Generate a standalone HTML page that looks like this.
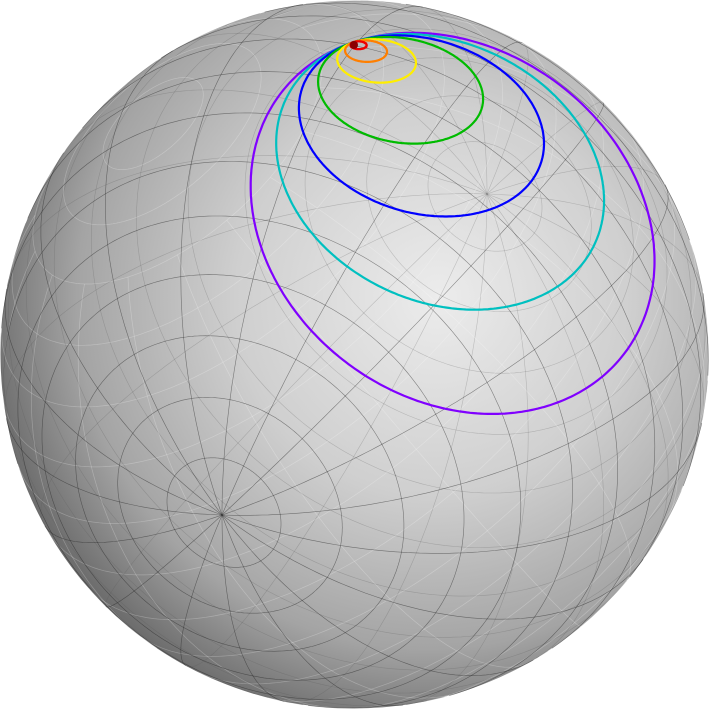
<!DOCTYPE html>
<html><head><meta charset="utf-8"><style>
html,body{margin:0;padding:0;background:#fff;width:709px;height:709px;overflow:hidden}
svg{display:block}
</style></head><body>
<svg id="chart" width="709" height="709" viewBox="0 0 709 709" xmlns="http://www.w3.org/2000/svg">
<defs>
<radialGradient id="shade" cx="0.6" cy="0.42" r="0.62" fx="0.62" fy="0.42">
<stop offset="0" stop-color="#ececec"/>
<stop offset="0.45" stop-color="#cfcfcf"/>
<stop offset="0.8" stop-color="#a4a4a4"/>
<stop offset="1" stop-color="#6e6e6e"/>
</radialGradient>
</defs>
<circle cx="354.5" cy="354.5" r="354" fill="url(#shade)"/>
<g id="grid-back"></g>
<g id="grid-light"></g>
<g id="grid-dark"></g>
<g id="circles"></g>
<circle cx="354" cy="45" r="4" fill="#8b0000"/>
</svg>
<script>
// data
const circleNames = ['red','orange','yellow','green','blue','cyan','purple'];
const circleColors = ['#ee0000','#ff7f00','#ffee00','#00bb00','#0000ff','#00c0c0','#8000ff'];
const angularRadii = [1.3, 3.4, 6.4, 13.6, 20.7, 28.8, 37.5];
const touchPoint = [354, 42];
const farPoint = [552, 410];
const darkPole = [222, 515];
const lightPole = [150, 120];
const meridianStep = [20];
const parallelStep = [10];

const CX=354.5, CY=354.5, R=354;
const NS='http://www.w3.org/2000/svg';
function toSphere(p){const x=(p[0]-CX)/R, y=(CY-p[1])/R;return [x,y,Math.sqrt(Math.max(0,1-x*x-y*y))];}
function sx(v){return CX+R*v[0];} function sy(v){return CY-R*v[1];}
function cross(a,b){return [a[1]*b[2]-a[2]*b[1],a[2]*b[0]-a[0]*b[2],a[0]*b[1]-a[1]*b[0]];}
function norm(a){const l=Math.hypot(a[0],a[1],a[2]);return a.map(v=>v/l);}
function add(a,b,s){return [a[0]+b[0]*s,a[1]+b[1]*s,a[2]+b[2]*s];}
function basis(c){let t=Math.abs(c[0])<0.9?[1,0,0]:[0,1,0];const u=norm(cross(c,t));const v=cross(c,u);return [u,v];}
function pathFrom(pts,back){let d='',pen=false;for(const p of pts){const vis=back?p[2]<0:p[2]>=0;if(!vis){pen=false;continue;}d+=(pen?'L':'M')+sx(p).toFixed(1)+' '+sy(p).toFixed(1);pen=true;}return d;}
function smallCircle(c,rDeg){const r=rDeg*Math.PI/180;const [u,v]=basis(c);const pts=[];for(let i=0;i<=360;i++){const t=i*Math.PI/180;let p=c.map(x=>x*Math.cos(r));p=add(p,u,Math.cos(t)*Math.sin(r));p=add(p,v,Math.sin(t)*Math.sin(r));pts.push(p);}return pts;}
function mkPath(g,d,stroke,w,op,name){if(!d)return;const e=document.createElementNS(NS,'path');e.setAttribute('d',d);e.setAttribute('fill','none');e.setAttribute('stroke',stroke);e.setAttribute('stroke-width',w);e.setAttribute('stroke-opacity',op);


g.appendChild(e);}
function graticule(gid,P,stroke,w,op,back,minC){const g=document.getElementById(gid);const [u,v]=basis(P);
for(let c=parallelStep[0];c<180;c+=parallelStep[0]){mkPath(g,pathFrom(smallCircle(P,c),back),stroke,w,op,'parallel-line');}
for(let lon=0;lon<360;lon+=meridianStep[0]){const L=lon*Math.PI/180;const dir=add(u.map(x=>x*Math.cos(L)),v,Math.sin(L));const pts=[];for(let c=minC;c<=180;c+=1){const a=c*Math.PI/180;pts.push(add(P.map(x=>x*Math.cos(a)),dir,Math.sin(a)));}mkPath(g,pathFrom(pts,back),stroke,w,op,'meridian-line');}}
const PD=toSphere(darkPole);
graticule('grid-back',PD,'#555',0.6,0.28,true,0);
const LP=toSphere(lightPole); LP[2]=-LP[2];
graticule('grid-light',LP,'#ffffff',0.7,0.25,true,30);
graticule('grid-dark',PD,'#222',0.6,0.5,false,0);
const T=toSphere(touchPoint),F=toSphere(farPoint);const n=norm(cross(T,F));const toward=cross(n,T);
const cg=document.getElementById('circles');
for(let i=angularRadii.length-1;i>=0;i--){const r=angularRadii[i]*Math.PI/180;const C=norm(add(T.map(x=>x*Math.cos(r)),toward,Math.sin(r)));
mkPath(cg,pathFrom(smallCircle(C,angularRadii[i]),false),circleColors[i],2.2,1,'circle-'+circleNames[i]);}
</script>
</body></html>
